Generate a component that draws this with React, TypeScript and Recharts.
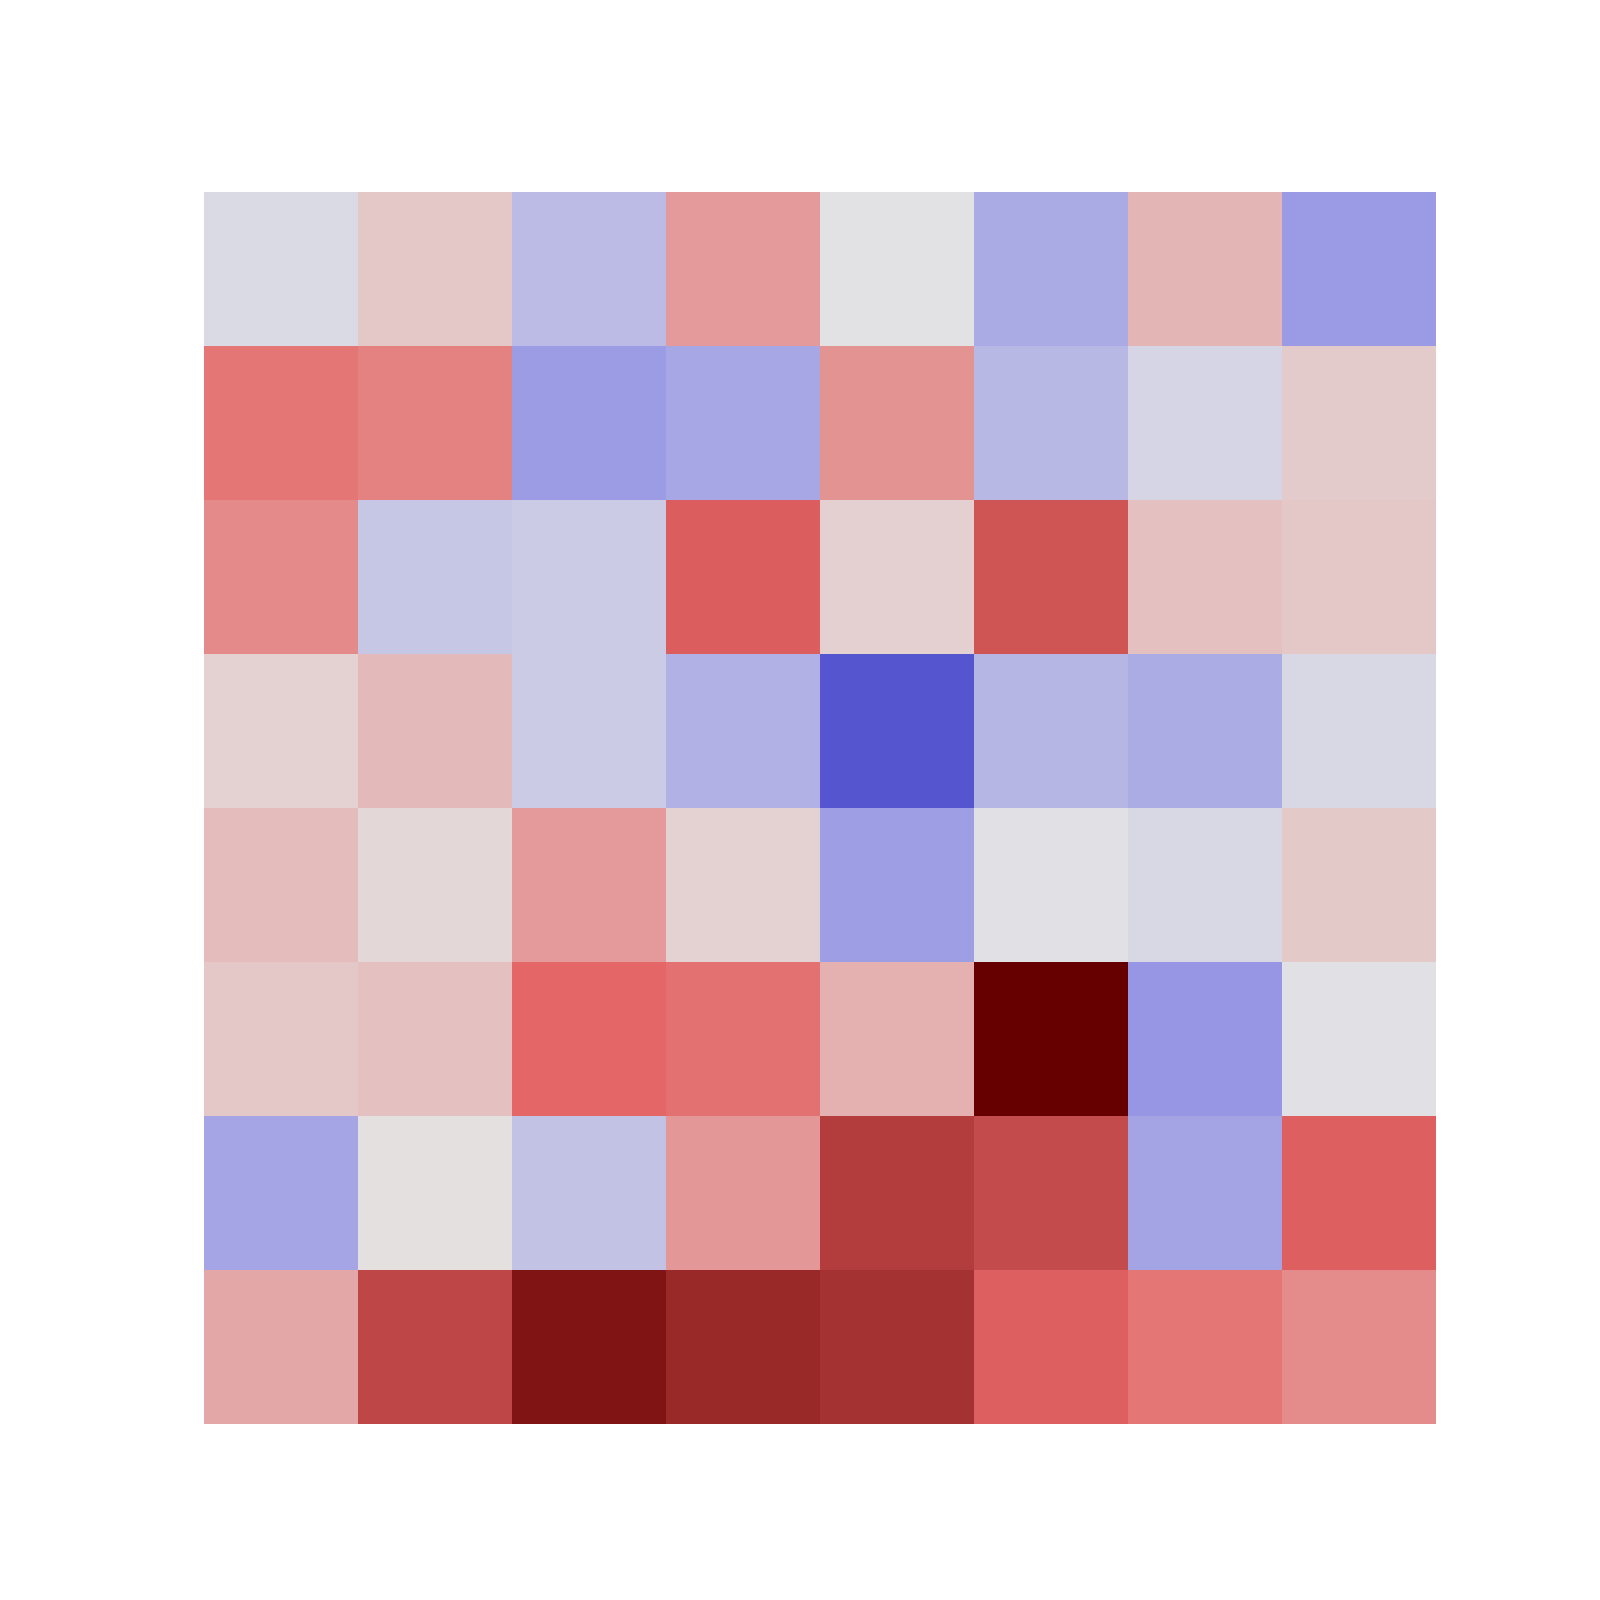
import React from "react";
import { BarChart, Bar, XAxis, YAxis, Cell } from "recharts";

// Column categories (left to right)
const columns = ["C1", "C2", "C3", "C4", "C5", "C6", "C7", "C8"];
// Row labels (top to bottom)
const rows = ["R1", "R2", "R3", "R4", "R5", "R6", "R7", "R8"];

// Cell values, one array per row (top to bottom), -1 (blue) .. 0 (neutral) .. 1 (dark red)
const row1 = [-0.06, 0.12, -0.28, 0.32, 0.0, -0.4, 0.2, -0.51];
const row2 = [0.48, 0.43, -0.5, -0.42, 0.35, -0.3, -0.09, 0.1];
const row3 = [0.39, -0.2, -0.16, 0.59, 0.08, 0.63, 0.15, 0.12];
const row4 = [0.07, 0.18, -0.16, -0.35, -1.0, -0.31, -0.38, -0.07];
const row5 = [0.17, 0.05, 0.32, 0.07, -0.48, -0.01, -0.07, 0.11];
const row6 = [0.12, 0.15, 0.55, 0.5, 0.22, 1.0, -0.54, -0.01];
const row7 = [-0.43, 0.01, -0.23, 0.33, 0.73, 0.67, -0.44, 0.58];
const row8 = [0.26, 0.69, 0.91, 0.82, 0.78, 0.58, 0.48, 0.38];

const matrix = [row1, row2, row3, row4, row5, row6, row7, row8];

function colorFor(v: number): string {
  let r: number, g: number, b: number;
  if (v > 0) {
    g = 226 * (1 - v);
    r = g >= 100 ? 228 : 102 + 1.26 * g;
    b = g;
  } else {
    g = 226 + 141 * v;
    r = g;
    b = g >= 150 ? 229 : 207 + ((g - 85) * 22) / 65;
  }
  const c = (x: number) => Math.max(0, Math.min(255, Math.round(x)));
  return `rgb(${c(r)},${c(g)},${c(b)})`;
}

// Stack from bottom row up
const stackOrder = rows.map((_, i) => rows.length - 1 - i);

const data = columns.map((col) => {
  const d: Record<string, any> = { col };
  rows.forEach((r) => {
    d[r] = 1;
  });
  return d;
});

export default function App() {
  return (
    <div style={{ width: 1600, height: 1600, background: "#ffffff" }}>
      <BarChart
        width={1600}
        height={1600}
        data={data}
        margin={{ top: 184, left: 196, right: 172, bottom: 184 }}
        barCategoryGap={0}
        barGap={0}
      >
        <XAxis dataKey="col" hide />
        <YAxis type="number" domain={[0, 8]} hide allowDataOverflow />
        {stackOrder.map((ri) => (
          <Bar
            key={rows[ri]}
            dataKey={rows[ri]}
            stackId="s"
            isAnimationActive={false}
          >
            {columns.map((c, ci) => (
              <Cell key={c} fill={colorFor(matrix[ri][ci])} />
            ))}
          </Bar>
        ))}
      </BarChart>
    </div>
  );
}
